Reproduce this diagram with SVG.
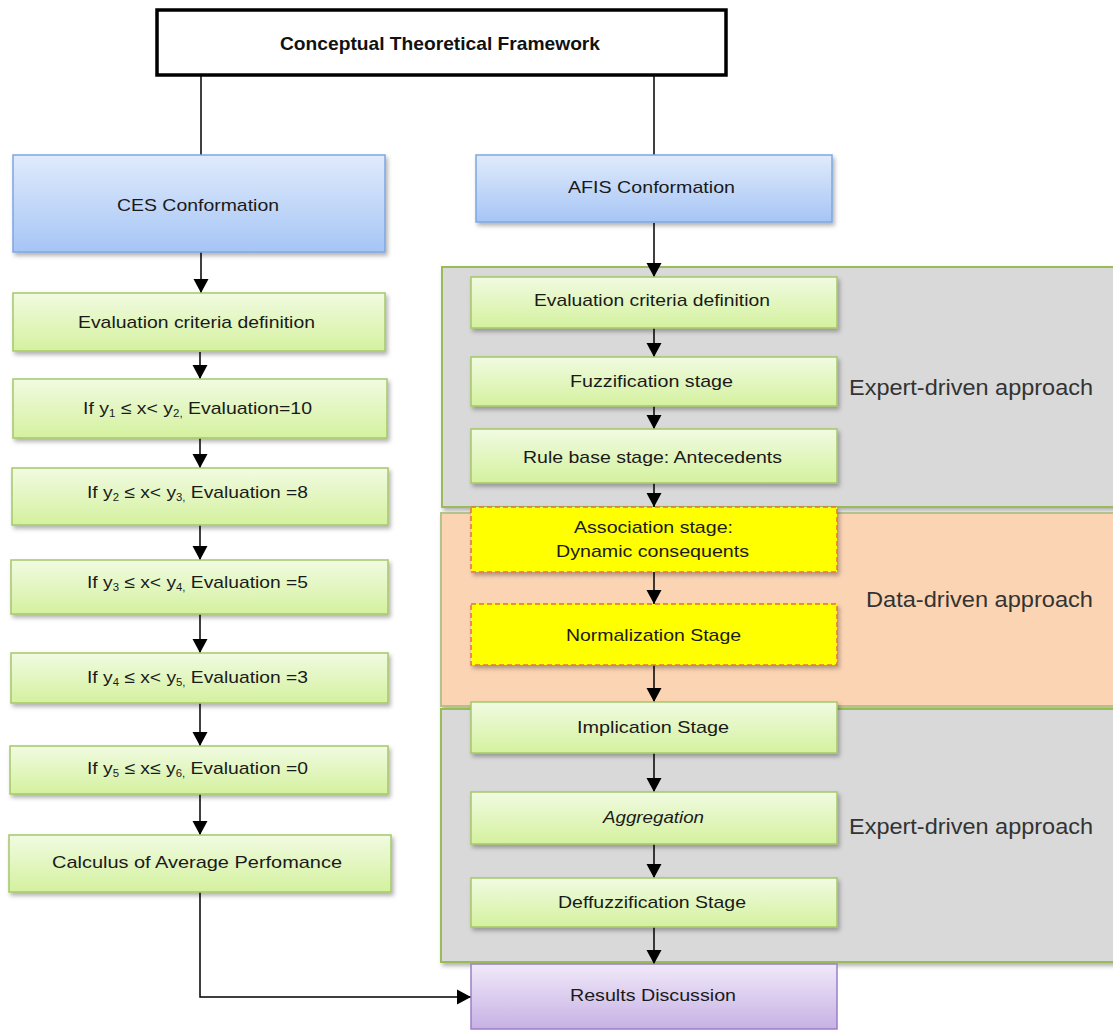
<svg xmlns="http://www.w3.org/2000/svg" width="1113" height="1030" viewBox="0 0 1113 1030">
<defs>
<linearGradient id="gGreen" x1="0" y1="0" x2="0" y2="1"><stop offset="0" stop-color="#f1fbe2"/><stop offset="1" stop-color="#d4f19e"/></linearGradient>
<linearGradient id="gBlue" x1="0" y1="0" x2="0" y2="1"><stop offset="0" stop-color="#e0ebfc"/><stop offset="1" stop-color="#a6c5f5"/></linearGradient>
<linearGradient id="gPurple" x1="0" y1="0" x2="0" y2="1"><stop offset="0" stop-color="#f0e9f9"/><stop offset="1" stop-color="#c7b1e5"/></linearGradient>
<filter id="sh" x="-5%" y="-10%" width="115%" height="130%"><feDropShadow dx="2" dy="3" stdDeviation="2" flood-color="#000" flood-opacity="0.3"/></filter>
<marker id="ah" markerUnits="userSpaceOnUse" markerWidth="15" markerHeight="16" refX="14" refY="8" orient="auto"><path d="M0,0.5 L14,8 L0,15.5 z" fill="#000"/></marker>
<style>
.green{fill:url(#gGreen);stroke:#a5c868;stroke-width:1.5;filter:url(#sh)}
.blue{fill:url(#gBlue);stroke:#7ea6e2;stroke-width:1.5;filter:url(#sh)}
.purple{fill:url(#gPurple);stroke:#9a7fc6;stroke-width:1.5}
.yellow{fill:#ffff00;stroke:#e8703a;stroke-width:1.5;stroke-dasharray:5 3;filter:url(#sh)}
.grey{fill:#d9d9d9;stroke:#9bbb59;stroke-width:2;filter:url(#sh)}
.peach{fill:#fbd4b4;stroke:#b4c28e;stroke-width:2;filter:url(#sh)}
.lbl{font-family:"Liberation Sans",Arial,sans-serif;font-size:17px;fill:#1a1a1a}
.side{font-family:"Liberation Sans",Arial,sans-serif;font-size:22px;fill:#333}
.sub{font-size:10px}
.conn{fill:none;stroke:#000;stroke-width:1.5}
</style>
</defs>
<rect width="1113" height="1030" fill="#fff"/>

<g id="panel-expert1"><rect class="grey" x="442" y="267" width="680" height="240"/><text class="side" x="849" y="395" textLength="244" lengthAdjust="spacingAndGlyphs">Expert-driven approach</text></g>
<g id="panel-data"><rect class="peach" x="441" y="513" width="681" height="193"/><text class="side" x="866" y="607" textLength="227" lengthAdjust="spacingAndGlyphs">Data-driven approach</text></g>
<g id="panel-expert2"><rect class="grey" x="441" y="709" width="681" height="253"/><text class="side" x="849" y="834" textLength="244" lengthAdjust="spacingAndGlyphs">Expert-driven approach</text></g>

<g id="connectors">
<line class="conn" x1="201" y1="76" x2="201" y2="155"/>
<line class="conn" x1="654" y1="76" x2="654" y2="155"/>
<line class="conn" x1="201" y1="252" x2="201" y2="293" marker-end="url(#ah)"/>
<line class="conn" x1="200" y1="352" x2="200" y2="379" marker-end="url(#ah)"/>
<line class="conn" x1="200" y1="438" x2="200" y2="468" marker-end="url(#ah)"/>
<line class="conn" x1="200" y1="525" x2="200" y2="560" marker-end="url(#ah)"/>
<line class="conn" x1="200" y1="614" x2="200" y2="653" marker-end="url(#ah)"/>
<line class="conn" x1="200" y1="703" x2="200" y2="746" marker-end="url(#ah)"/>
<line class="conn" x1="200" y1="794" x2="200" y2="835" marker-end="url(#ah)"/>
<path class="conn" d="M200,892 V997 H471" marker-end="url(#ah)"/>
<line class="conn" x1="654" y1="223" x2="654" y2="277" marker-end="url(#ah)"/>
<line class="conn" x1="654" y1="328" x2="654" y2="357" marker-end="url(#ah)"/>
<line class="conn" x1="654" y1="406" x2="654" y2="429" marker-end="url(#ah)"/>
<line class="conn" x1="654" y1="483" x2="654" y2="507" marker-end="url(#ah)"/>
<line class="conn" x1="654" y1="572" x2="654" y2="604" marker-end="url(#ah)"/>
<line class="conn" x1="654" y1="665" x2="654" y2="702" marker-end="url(#ah)"/>
<line class="conn" x1="654" y1="753" x2="654" y2="792" marker-end="url(#ah)"/>
<line class="conn" x1="654" y1="844" x2="654" y2="878" marker-end="url(#ah)"/>
<line class="conn" x1="654" y1="927" x2="654" y2="964" marker-end="url(#ah)"/>
</g>

<g id="title"><rect x="157" y="10" width="569" height="65" fill="#fff" stroke="#000" stroke-width="3.5"/><text x="280" y="50" font-family="Liberation Sans,Arial,sans-serif" font-size="19" font-weight="bold" fill="#111" textLength="320" lengthAdjust="spacingAndGlyphs">Conceptual Theoretical Framework</text></g>

<g id="ces"><rect class="blue" x="13" y="155" width="372" height="97"/><text class="lbl" x="117" y="211" textLength="162" lengthAdjust="spacingAndGlyphs">CES Conformation</text></g>
<g id="afis"><rect class="blue" x="476" y="155" width="356" height="67"/><text class="lbl" x="568" y="193" textLength="167" lengthAdjust="spacingAndGlyphs">AFIS Conformation</text></g>

<g id="l-eval"><rect class="green" x="13" y="293" width="372" height="58"/><text class="lbl" x="78" y="328" textLength="237" lengthAdjust="spacingAndGlyphs">Evaluation criteria definition</text></g>
<g id="l-if1"><rect class="green" x="13" y="379" width="374" height="59"/><text class="lbl" x="83" y="414" textLength="229" lengthAdjust="spacingAndGlyphs">If y<tspan class="sub" dy="3">1</tspan><tspan dy="-3"> ≤ x&lt; y</tspan><tspan class="sub" dy="3">2,</tspan><tspan dy="-3"> Evaluation=10</tspan></text></g>
<g id="l-if2"><rect class="green" x="12" y="468" width="376" height="57"/><text class="lbl" x="87" y="498" textLength="221" lengthAdjust="spacingAndGlyphs">If y<tspan class="sub" dy="3">2</tspan><tspan dy="-3"> ≤ x&lt; y</tspan><tspan class="sub" dy="3">3,</tspan><tspan dy="-3"> Evaluation =8</tspan></text></g>
<g id="l-if3"><rect class="green" x="11" y="560" width="377" height="54"/><text class="lbl" x="87" y="588" textLength="221" lengthAdjust="spacingAndGlyphs">If y<tspan class="sub" dy="3">3</tspan><tspan dy="-3"> ≤ x&lt; y</tspan><tspan class="sub" dy="3">4,</tspan><tspan dy="-3"> Evaluation =5</tspan></text></g>
<g id="l-if4"><rect class="green" x="11" y="653" width="377" height="50"/><text class="lbl" x="87" y="683" textLength="221" lengthAdjust="spacingAndGlyphs">If y<tspan class="sub" dy="3">4</tspan><tspan dy="-3"> ≤ x&lt; y</tspan><tspan class="sub" dy="3">5,</tspan><tspan dy="-3"> Evaluation =3</tspan></text></g>
<g id="l-if5"><rect class="green" x="10" y="746" width="378" height="48"/><text class="lbl" x="87" y="774" textLength="221" lengthAdjust="spacingAndGlyphs">If y<tspan class="sub" dy="3">5</tspan><tspan dy="-3"> ≤ x≤ y</tspan><tspan class="sub" dy="3">6,</tspan><tspan dy="-3"> Evaluation =0</tspan></text></g>
<g id="l-calc"><rect class="green" x="9" y="835" width="382" height="57"/><text class="lbl" x="52" y="868" textLength="290" lengthAdjust="spacingAndGlyphs">Calculus of Average Perfomance</text></g>

<g id="r-eval"><rect class="green" x="471" y="277" width="366" height="51"/><text class="lbl" x="534" y="306" textLength="236" lengthAdjust="spacingAndGlyphs">Evaluation criteria definition</text></g>
<g id="r-fuzz"><rect class="green" x="471" y="357" width="366" height="49"/><text class="lbl" x="570" y="387" textLength="163" lengthAdjust="spacingAndGlyphs">Fuzzification stage</text></g>
<g id="r-rule"><rect class="green" x="471" y="429" width="366" height="54"/><text class="lbl" x="523" y="463" textLength="259" lengthAdjust="spacingAndGlyphs">Rule base stage: Antecedents</text></g>
<g id="r-assoc"><rect class="yellow" x="471" y="507" width="366" height="65"/><text class="lbl" x="574" y="533" textLength="159" lengthAdjust="spacingAndGlyphs">Association stage:</text><text class="lbl" x="556" y="557" textLength="193" lengthAdjust="spacingAndGlyphs">Dynamic consequents</text></g>
<g id="r-norm"><rect class="yellow" x="471" y="604" width="366" height="61"/><text class="lbl" x="566" y="641" textLength="175" lengthAdjust="spacingAndGlyphs">Normalization Stage</text></g>
<g id="r-impl"><rect class="green" x="471" y="702" width="366" height="51"/><text class="lbl" x="577" y="733" textLength="152" lengthAdjust="spacingAndGlyphs">Implication Stage</text></g>
<g id="r-aggr"><rect class="green" x="471" y="792" width="366" height="52"/><text class="lbl" x="603" y="823" font-style="italic" textLength="101" lengthAdjust="spacingAndGlyphs">Aggregation</text></g>
<g id="r-defuzz"><rect class="green" x="471" y="878" width="366" height="49"/><text class="lbl" x="558" y="908" textLength="188" lengthAdjust="spacingAndGlyphs">Deffuzzification Stage</text></g>
<g id="r-results"><rect class="purple" x="471" y="964" width="366" height="65"/><text class="lbl" x="570" y="1001" textLength="166" lengthAdjust="spacingAndGlyphs">Results Discussion</text></g>
</svg>
